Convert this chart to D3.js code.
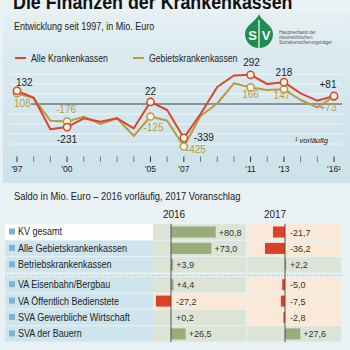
<!DOCTYPE html>
<html><head><meta charset="utf-8">
<script src="https://cdn.jsdelivr.net/npm/d3@7"></script>
<style>
html,body{margin:0;padding:0;background:#e7f1f4;}
svg{display:block;font-family:"Liberation Sans",Arial,sans-serif;}
</style></head>
<body><svg id="c" width="350" height="350"></svg>
<script>
const years = d3.range(1997, 2017);
const alleKK = [132, 63, -253, -231, -143, -177, -143, -243, 22, -60, -339, -100, 170, 285, 292, 200, 218, 107, 33, 81];
const gebietsKK = [108, 57, -167, -176, -127, -200, -143, -320, -125, -167, -425, -120, 5, 207, 166, 140, 147, 40, -33, 73];
const markedYears = [1997, 2000, 2005, 2007, 2011, 2013, 2016];
const tickLabels = {1997:"'97", 2000:"'00", 2005:"'05", 2007:"'07", 2011:"'11", 2013:"'13", 2016:"'16¹"};
const gridValues = [300, 200, 100, -100, -200, -300, -400];

const categories = ["KV gesamt", "Alle Gebietskrankenkassen", "Betriebskrankenkassen", "VA Eisenbahn/Bergbau", "VA Öffentlich Bedienstete", "SVA Gewerbliche Wirtschaft", "SVA der Bauern"];
const saldo2016 = [80.8, 73.0, 3.9, 4.4, -27.2, 0.2, 26.5];
const saldo2017 = [-21.7, -36.2, 2.2, -5.0, -7.5, -2.8, 27.6];

const RED = "#d9462a", GOLD = "#b99b45";
const svg = d3.select("#c");
const defs = svg.append("defs");
const grad = defs.append("linearGradient").attr("id","pg").attr("x1",0).attr("x2",0).attr("y1",0).attr("y2",1);
grad.append("stop").attr("offset","0").attr("stop-color","#e6f0f3");
grad.append("stop").attr("offset","0.3").attr("stop-color","#d9e9ef");
grad.append("stop").attr("offset","1").attr("stop-color","#cde2ea");

// condense text horizontally (narrower original typeface) via a transform, anchored at its x
function condense(sel, f) {
  sel.each(function(){
    const x0 = +this.getAttribute("x");
    d3.select(this).attr("transform", `translate(${x0*(1-f)},0) scale(${f},1)`);
  });
  return sel;
}

svg.append("rect").attr("x",0).attr("y",0).attr("width",350).attr("height",350).attr("fill","#e8f2f5");
svg.append("rect").attr("x",3).attr("y",12).attr("width",347).attr("height",171).attr("fill","url(#pg)");

// title
condense(svg.append("text").attr("x",13).attr("y",9).attr("font-size",21).attr("font-weight","bold").attr("fill","#111")
  .text("Die Finanzen der Krankenkassen"), 0.85);
condense(svg.append("text").attr("x",14).attr("y",30).attr("font-size",10.5).attr("fill","#222")
  .text("Entwicklung seit 1997, in Mio. Euro"), 0.86);

// legend
const leg = [{n:"Alle Krankenkassen", c:RED, x:15},{n:"Gebietskrankenkassen", c:GOLD, x:133}];
leg.forEach(l=>{
  svg.append("line").attr("x1",l.x).attr("x2",l.x+11).attr("y1",58).attr("y2",58).attr("stroke",l.c).attr("stroke-width",2);
  condense(svg.append("text").attr("x",l.x+16).attr("y",62).attr("font-size",10.5).attr("fill","#222").text(l.n), 0.83);
});

// SV logo
const logo = svg.append("g");
logo.append("path").attr("d","M259,14 C261,21 273,25 273,34 A14,14 0 0 1 245,34 C245,25 257,21 259,14 Z").attr("fill","#1e8c4f");
logo.append("line").attr("x1",259).attr("x2",259).attr("y1",20).attr("y2",48).attr("stroke","#fff").attr("stroke-width",1.2);
logo.append("text").attr("x",252.5).attr("y",40).attr("text-anchor","middle").attr("font-size",13).attr("font-weight","bold").attr("fill","#fff").text("S");
logo.append("text").attr("x",266).attr("y",40).attr("text-anchor","middle").attr("font-size",13).attr("font-weight","bold").attr("fill","#fff").text("V");
["Hauptverband der","österreichischen","Sozialversicherungsträger"].forEach((t,i)=>{
  logo.append("text").attr("x",279).attr("y",34+i*5).attr("font-size",4.6).attr("fill","#555").text(t);
});

// line chart
const x = d3.scaleLinear().domain([1997, 2016]).range([17, 334]);
const y = d3.scaleLinear().domain([-400, 300]).range([144, 74]);

svg.append("g").selectAll("line").data(gridValues).join("line")
  .attr("x1",10).attr("x2",342).attr("y1",d=>y(d)).attr("y2",d=>y(d))
  .attr("stroke","#ffffff").attr("stroke-opacity",0.75).attr("stroke-width",0.8);
svg.append("line").attr("x1",31).attr("x2",342).attr("y1",y(0)).attr("y2",y(0)).attr("stroke","#3a4246").attr("stroke-width",1);

// ticks
const tk = svg.append("g");
years.forEach(yr=>{
  const lab = tickLabels[yr];
  tk.append("line").attr("x1",x(yr)).attr("x2",x(yr)).attr("y1",156.5).attr("y2",162)
    .attr("stroke", lab ? "#333" : "#777").attr("stroke-width",1);
  if (lab) tk.append("text").attr("x",x(yr)).attr("y",171.5).attr("text-anchor","middle").attr("font-size",8.5).attr("fill","#222").text(lab);
});

const line = d3.line().x((d,i)=>x(years[i])).y(d=>y(d));
svg.append("path").datum(gebietsKK).attr("d",line).attr("fill","none").attr("stroke",GOLD).attr("stroke-width",2).attr("stroke-linejoin","round");
svg.append("path").datum(alleKK).attr("d",line).attr("fill","none").attr("stroke",RED).attr("stroke-width",2).attr("stroke-linejoin","round");

[[gebietsKK,GOLD],[alleKK,RED]].forEach(([s,c])=>{
  svg.append("g").selectAll("circle").data(markedYears).join("circle")
    .attr("cx",d=>x(d)).attr("cy",d=>y(s[d-1997])).attr("r",3.6)
    .attr("fill","#fdf6ee").attr("stroke",c).attr("stroke-width",1.5);
});

// value labels
const lbl = (t, px, py, col, anchor) => svg.append("text").attr("x",px).attr("y",py).attr("font-size",10)
  .attr("fill",col).attr("text-anchor",anchor||"start").text(t);
const fmt = v => (v>0?"+":"")+v;
lbl(alleKK[0], 16, 86, "#222");
lbl(gebietsKK[0], 14, 107, GOLD);
lbl(alleKK[3], x(2000), 143, "#222", "middle");
lbl(gebietsKK[3], x(2000)-1, 113, GOLD, "middle");
lbl(alleKK[8], x(2005), 95, "#222", "middle");
lbl(gebietsKK[8], x(2005)+3, 131, GOLD, "middle");
lbl(alleKK[10], x(2007)+20, 141, "#222", "middle");
lbl(gebietsKK[10], x(2007)+12, 153, GOLD, "middle");
lbl(alleKK[14], x(2011)+1, 66, "#222", "middle");
lbl(gebietsKK[14], x(2011), 98, GOLD, "middle");
lbl(alleKK[16], x(2013), 76, "#222", "middle");
lbl(gebietsKK[16], x(2013)-2, 99, GOLD, "middle");
lbl(fmt(alleKK[19]), x(2016)-6, 88, "#222", "middle");
lbl(fmt(gebietsKK[19]), x(2016)-6, 111, GOLD, "middle");
svg.append("text").attr("x",295).attr("y",143).attr("font-size",7.5).attr("font-style","italic").attr("fill","#222").text("¹ vorläufig");

// table
condense(svg.append("text").attr("x",14).attr("y",200).attr("font-size",10).attr("fill","#222")
  .text("Saldo in Mio. Euro – 2016 vorläufig, 2017 Voranschlag"), 0.94);
svg.append("text").attr("x",174).attr("y",218).attr("text-anchor","middle").attr("font-size",10).attr("fill","#222").text("2016");
svg.append("text").attr("x",275).attr("y",218).attr("text-anchor","middle").attr("font-size",10).attr("fill","#222").text("2017");

const rowH = 16.4;
const rowCenter = i => 232 + i*rowH + (i>=3 ? 3.5 : 0);
const x16 = d3.scaleLinear().domain([0, 80.8]).range([171, 215.7]);
const x17 = d3.scaleLinear().domain([0, 80.8]).range([285, 329.7]);
const POS_BG = "#dde3d6", NEG_BG = "#fbe9d8";
const dec = v => (v>0?"+":"") + v.toFixed(1).replace(".", ",");

categories.forEach((c,i)=>{
  const cy = rowCenter(i), top = cy - rowH/2 + 0.5, h = rowH - 1;
  svg.append("rect").attr("x",5).attr("y",top).attr("width",148).attr("height",h).attr("fill", i===0 ? "#ffffff" : "#cfe5ed");
  svg.append("rect").attr("x",9).attr("y",cy-3.5).attr("width",6).attr("height",6).attr("fill","#7db3d3");
  condense(svg.append("text").attr("x",18).attr("y",cy+3.5).attr("font-size",10).attr("fill","#222").text(c), 0.9);
  [[saldo2016,x16,153,94],[saldo2017,x17,247,95]].forEach(([vals,sc,bx,bw])=>{
    const v = vals[i];
    svg.append("rect").attr("x",bx).attr("y",top).attr("width",bw-1).attr("height",h).attr("fill", v<0 ? NEG_BG : POS_BG);
    svg.append("rect").attr("x",Math.min(sc(0),sc(v))).attr("y",cy-5.5).attr("width",Math.abs(sc(v)-sc(0))).attr("height",11)
      .attr("fill", v<0 ? "#d9412b" : "#9aab7c");
    svg.append("text").attr("x",Math.max(sc(v), sc(0)+2)+3).attr("y",cy+3.5).attr("font-size",9).attr("fill","#333").text(dec(v));
  });
});
// separator
svg.append("line").attr("x1",5).attr("x2",342).attr("y1",rowCenter(3)-rowH/2-1.2).attr("y2",rowCenter(3)-rowH/2-1.2)
  .attr("stroke","#8fa6b8").attr("stroke-width",0.8).attr("stroke-dasharray","1.5,1.5");
// zero axes
[x16,x17].forEach(sc=>{
  svg.append("line").attr("x1",sc(0)).attr("x2",sc(0)).attr("y1",rowCenter(0)-rowH/2).attr("y2",rowCenter(6)+rowH/2)
    .attr("stroke","#444").attr("stroke-width",0.9);
});
</script></body></html>
